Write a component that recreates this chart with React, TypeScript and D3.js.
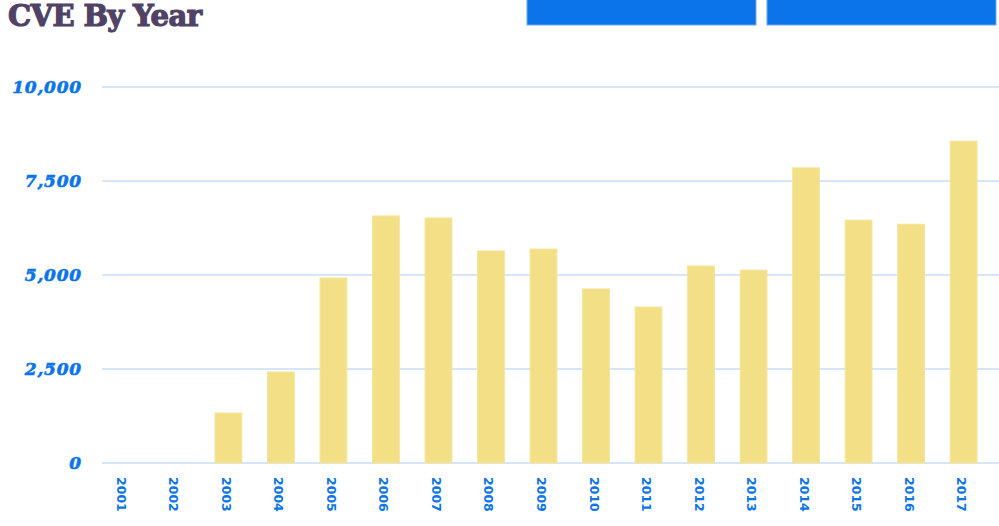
import React from "react";
import * as d3 from "d3";

const years = ["2001","2002","2003","2004","2005","2006","2007","2008","2009","2010","2011","2012","2013","2014","2015","2016","2017"];
const counts = [0, 0, 1330, 2420, 4920, 6570, 6516, 5640, 5690, 4630, 4150, 5240, 5130, 7850, 6460, 6350, 8560];
const yTicks = [0, 2500, 5000, 7500, 10000];
const title = "CVE By Year";

const W = 999;
const H = 526;

export default function App() {
  const x = d3.scaleBand<string>().domain(years).range([110, 977]).paddingInner(0.49).paddingOuter(0);
  const y = d3.scaleLinear().domain([0, 10000]).range([463, 87]);
  const fmt = d3.format(",");

  return (
    <svg width={W} height={H} style={{ position: "absolute", left: 0, top: 0, background: "#fff" }}>
      <text x={8} y={26} fontFamily="'DejaVu Serif', serif" fontWeight={900} fontSize={29} fill="#4f4265" stroke="#4f4265" strokeWidth={1.2} letterSpacing={-0.6}>
        {title}
      </text>
      <rect x={527} y={-1} width={229} height={26} fill="#0a74e8" stroke="#6aa8f0" strokeWidth={1} />
      <rect x={767} y={-1} width={229} height={26} fill="#0a74e8" stroke="#6aa8f0" strokeWidth={1} />
      {yTicks.map((t) => (
        <g key={t}>
          <line x1={102} x2={999} y1={y(t)} y2={y(t)} stroke="#d6e6f8" strokeWidth={2} />
          <text x={82} y={y(t) + 6} textAnchor="end" fontFamily="'DejaVu Serif', serif" fontStyle="italic" fontWeight={700} fontSize={17} fill="#0a74e8" stroke="#0a74e8" strokeWidth={0.6} letterSpacing={0.8}>
            {fmt(t)}
          </text>
        </g>
      ))}
      {years.map((yr, i) => (
        <rect key={yr} x={x(yr)} y={y(counts[i])} width={x.bandwidth()} height={y(0) - y(counts[i])} fill="#f2df86" stroke="#f4e59a" strokeWidth={1} />
      ))}
      {years.map((yr) => (
        <text key={yr} transform={`translate(${(x(yr) as number) + x.bandwidth() / 2 - 2},477) rotate(90)`} dy="0.36em" fontFamily="'DejaVu Sans', sans-serif" fontWeight={700} fontSize={12.5} fill="#0a74e8">
          {yr}
        </text>
      ))}
    </svg>
  );
}
